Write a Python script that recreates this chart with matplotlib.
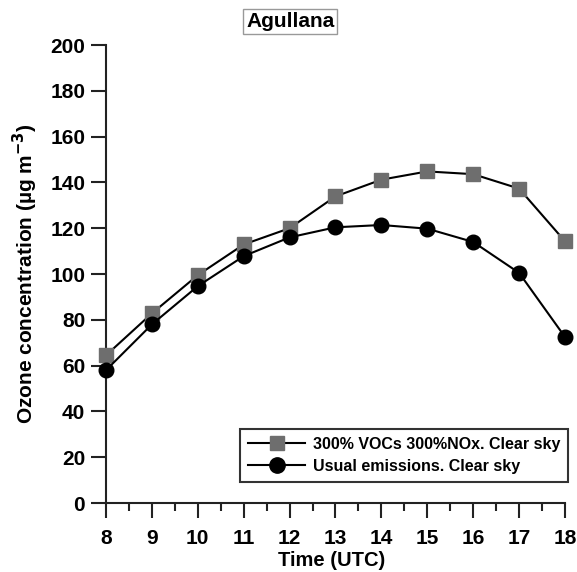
import matplotlib
matplotlib.use('Agg')
import matplotlib.pyplot as plt
import numpy as np

plt.rcParams['font.family'] = ['Liberation Sans', 'DejaVu Sans']
plt.rcParams['font.weight'] = 'bold'

# Data
hours = [8, 9, 10, 11, 12, 13, 14, 15, 16, 17, 18]
voc_nox_300 = [64.5, 82.8, 99.5, 112.9, 120.0, 133.9, 141.2, 144.8, 143.6, 137.3, 114.3]
usual = [58.0, 78.0, 94.7, 107.8, 116.0, 120.4, 121.4, 119.8, 114.0, 100.5, 72.5]
label_voc = '300% VOCs 300%NOx. Clear sky'
label_usual = 'Usual emissions. Clear sky'

fig = plt.figure(figsize=(5.77, 5.72), dpi=100)
ax = fig.add_axes([0.1837, 0.1206, 0.7955, 0.8007])

ax.plot(hours, voc_nox_300, color='black', lw=1.5, marker='s', markersize=10,
        markerfacecolor='#6e6e6e', markeredgecolor='#6e6e6e', label=label_voc,
        clip_on=False, zorder=3)
ax.plot(hours, usual, color='black', lw=1.5, marker='o', markersize=10.5,
        markerfacecolor='black', markeredgecolor='black', label=label_usual,
        clip_on=False, zorder=4)

ax.set_xlim(8, 18)
ax.set_ylim(0, 200)
ax.set_xticks(range(8, 19))
ax.set_xticks(np.arange(8.5, 18, 1), minor=True)
ax.set_yticks(range(0, 201, 20))

for s in ['top', 'right']:
    ax.spines[s].set_visible(False)
for s in ['left', 'bottom']:
    ax.spines[s].set_linewidth(1.5)
    ax.spines[s].set_color('#222222')

ax.tick_params(axis='both', which='major', direction='out', length=11, width=1.5,
               labelsize=15, color='#222222')
ax.tick_params(axis='y', which='major', pad=4)
ax.tick_params(axis='x', which='major', pad=7.5)
ax.tick_params(axis='x', which='minor', direction='out', length=6, width=1.5,
               color='#222222')
for t in ax.get_xticklabels() + ax.get_yticklabels():
    t.set_fontweight('bold')

ax.set_xlabel('Time (UTC)', fontsize=14.5, fontweight='bold')
ax.xaxis.set_label_coords(0.492, -0.104)
ax.set_ylabel('Ozone concentration (µg m$^{\\mathbf{-3}}$)', fontsize=15,
              fontweight='bold', labelpad=7)

leg = ax.legend(loc='lower right', bbox_to_anchor=(1.0065, 0.046), fontsize=11.5,
                frameon=True, fancybox=False, handlelength=3.6, borderpad=0.5,
                labelspacing=0.45, handletextpad=0.45, borderaxespad=0,
                markerscale=1.05)
leg.get_frame().set_edgecolor('black')
leg.get_frame().set_linewidth(1.5)
for t in leg.get_texts():
    t.set_fontweight('bold')

fig.text(0.503, 0.962, 'Agullana', ha='center', va='center', fontsize=15,
         fontweight='bold',
         bbox=dict(boxstyle='square,pad=0.15', facecolor='white', edgecolor='#999999', lw=1))

fig.savefig('out.png', dpi=100)
